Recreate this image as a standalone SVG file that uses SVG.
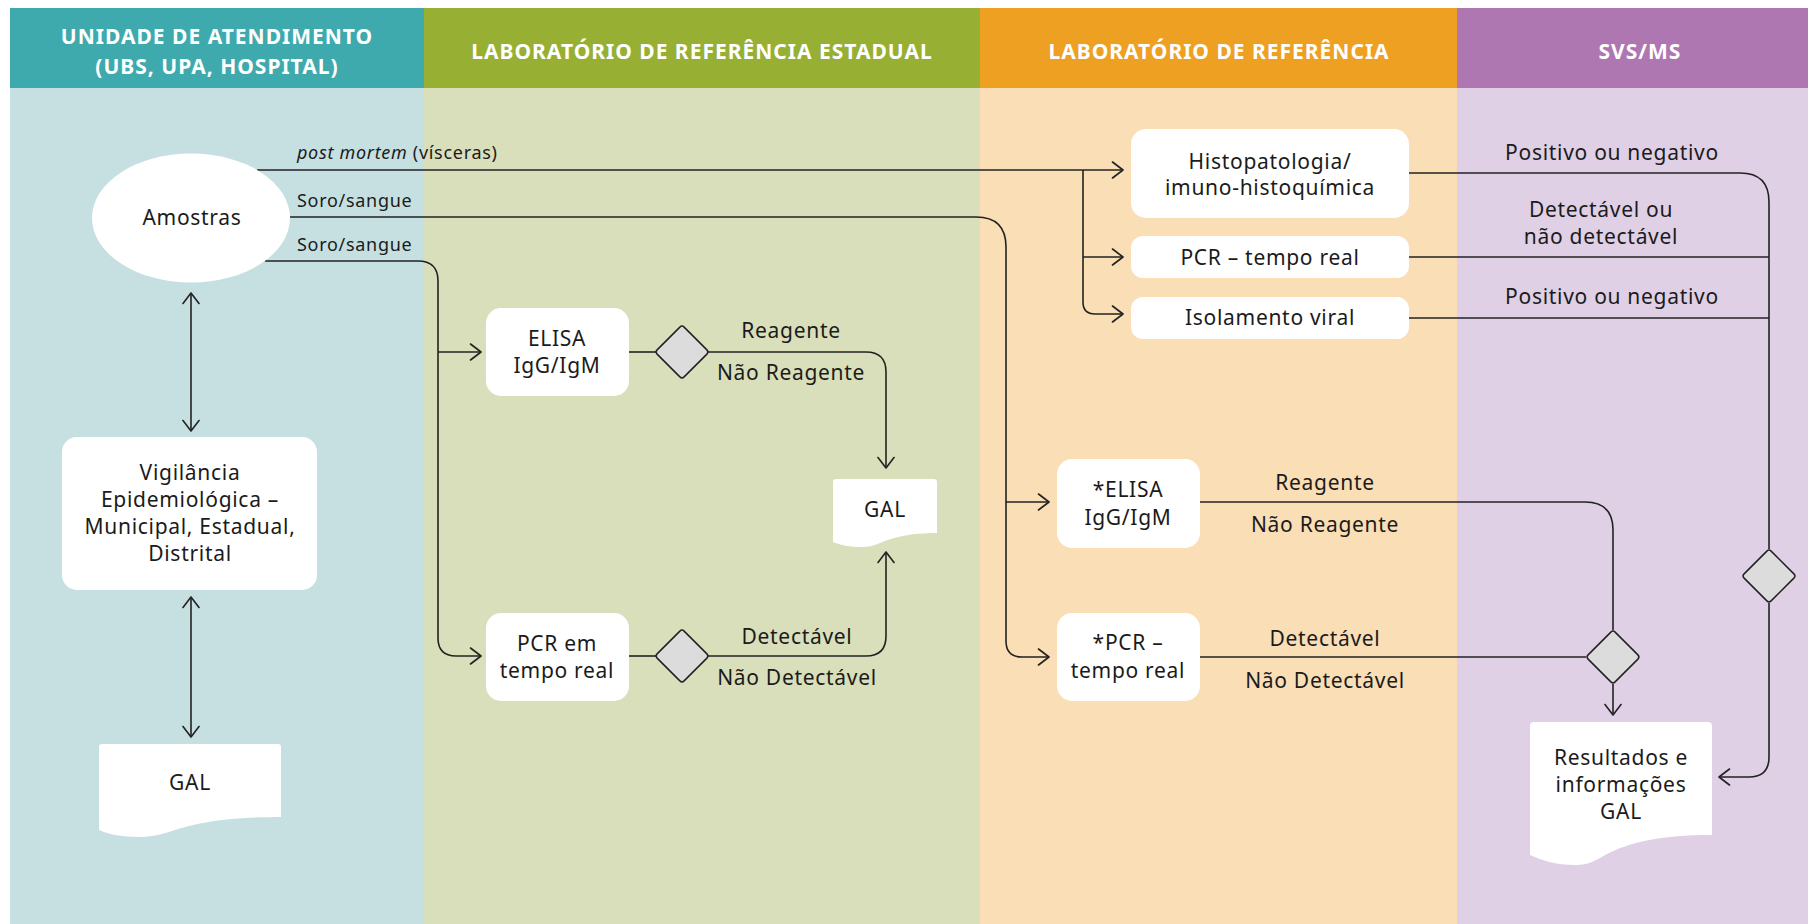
<svg xmlns="http://www.w3.org/2000/svg" xmlns:xlink="http://www.w3.org/1999/xlink" width="1808" height="924" viewBox="0 0 1808 924">
  <style>
    .hdr { fill: #ffffff; font-family: "Noto Sans", "Open Sans", sans-serif; font-weight: 700; font-size: 21px; letter-spacing: 1px; text-anchor: middle; }
    .t { fill: #1b1b1b; font-family: "Noto Sans", "Open Sans", sans-serif; font-size: 21px; letter-spacing: 0.7px; text-anchor: middle; }
    .lbl { fill: #1b1b1b; font-family: "Noto Sans", "Open Sans", sans-serif; font-size: 21px; letter-spacing: 0.7px; text-anchor: middle; }
    .lbl-s { fill: #1b1b1b; font-family: "Noto Sans", "Open Sans", sans-serif; font-size: 18px; letter-spacing: 0.7px; }
    .box { fill: #ffffff; }
    .dia { fill: #dcdcdc; stroke: #222222; stroke-width: 1.5; }
    .con { fill: none; stroke: #222222; stroke-width: 1.6; }
    .arr { marker-end: url(#chev); }
    .arr2 { marker-start: url(#chev); marker-end: url(#chev); }
  </style>
  <defs>
    <marker id="chev" markerUnits="userSpaceOnUse" viewBox="0 0 14 18" markerWidth="14" markerHeight="18" refX="12.5" refY="9" orient="auto-start-reverse">
      <path d="M2,1 L12.5,9 L2,17" fill="none" stroke="#222222" stroke-width="1.6" stroke-linejoin="round" stroke-linecap="round"/>
    </marker>
    <rect id="diamond" class="dia" x="-19.1" y="-19.1" width="38.2" height="38.2" rx="3" transform="rotate(45)"/>
  </defs>

  <!-- lanes -->
  <g id="lanes">
    <rect x="0" y="0" width="1808" height="924" fill="#ffffff"/>
    <rect x="10" y="88" width="414" height="836" fill="#c6e0e1"/>
    <rect x="424" y="88" width="556" height="836" fill="#d9dfba"/>
    <rect x="980" y="88" width="477" height="836" fill="#f9deb6"/>
    <rect x="1457" y="88" width="351" height="836" fill="#e0d0e6"/>
    <rect x="10" y="8" width="414" height="80" fill="#3faaae"/>
    <rect x="424" y="8" width="556" height="80" fill="#97af33"/>
    <rect x="980" y="8" width="477" height="80" fill="#eea022"/>
    <rect x="1457" y="8" width="351" height="80" fill="#ae77b2"/>
    <text class="hdr" x="217" y="44">UNIDADE DE ATENDIMENTO</text>
    <text class="hdr" x="217" y="74">(UBS, UPA, HOSPITAL)</text>
    <text class="hdr" x="702" y="59">LABORATÓRIO DE REFERÊNCIA ESTADUAL</text>
    <text class="hdr" x="1219" y="59">LABORATÓRIO DE REFERÊNCIA</text>
    <text class="hdr" x="1640" y="59">SVS/MS</text>
  </g>

  <!-- connectors -->
  <g id="connectors">
    <!-- post mortem route -->
    <path class="con arr" d="M257,170 H1123"/>
    <path class="con arr" d="M1083,170 V302 Q1083,314 1095,314 H1123"/>
    <path class="con arr" d="M1083,257 H1123"/>
    <!-- serum route to reference lab -->
    <path class="con arr" d="M290,217 H976 Q1006,217 1006,247 V641 Q1006,657 1022,657 H1049"/>
    <path class="con arr" d="M1006,502 H1049"/>
    <!-- serum route to state lab -->
    <path class="con arr" d="M265,261 H418 Q438,261 438,281 V638 Q438,656 456,656 H481"/>
    <path class="con arr" d="M438,352 H481"/>
    <path class="con" d="M629,352 H656"/>
    <path class="con arr" d="M708,352 H866 Q886,352 886,372 V468"/>
    <path class="con" d="M629,656 H656"/>
    <path class="con arr" d="M708,656 H866 Q886,656 886,636 V552"/>
    <!-- reference lab results -->
    <path class="con" d="M1200,502 H1585 Q1613,502 1613,530 V630"/>
    <path class="con" d="M1200,657 H1586"/>
    <path class="con arr" d="M1613,684 V715"/>
    <path class="con" d="M1409,173 H1740 Q1769,173 1769,202 V549"/>
    <path class="con" d="M1409,257 H1769"/>
    <path class="con" d="M1409,318 H1769"/>
    <path class="con arr" d="M1769,603 V757 Q1769,777 1749,777 H1719"/>
    <!-- surveillance links -->
    <path class="con arr2" d="M191,293 V431"/>
    <path class="con arr2" d="M191,597 V737"/>

    <text class="lbl-s" x="297" y="159"><tspan font-style="italic">post mortem</tspan> (vísceras)</text>
    <text class="lbl-s" x="297" y="207">Soro/sangue</text>
    <text class="lbl-s" x="297" y="251">Soro/sangue</text>
    <text class="lbl" x="791" y="338">Reagente</text>
    <text class="lbl" x="791" y="380">Não Reagente</text>
    <text class="lbl" x="797" y="644">Detectável</text>
    <text class="lbl" x="797" y="685">Não Detectável</text>
    <text class="lbl" x="1325" y="490">Reagente</text>
    <text class="lbl" x="1325" y="532">Não Reagente</text>
    <text class="lbl" x="1325" y="646">Detectável</text>
    <text class="lbl" x="1325" y="688">Não Detectável</text>
    <text class="lbl" x="1612" y="160">Positivo ou negativo</text>
    <text class="lbl" x="1601" y="217">Detectável ou</text>
    <text class="lbl" x="1601" y="244">não detectável</text>
    <text class="lbl" x="1612" y="304">Positivo ou negativo</text>
  </g>

  <!-- nodes -->
  <g id="amostras">
    <ellipse class="box" cx="191" cy="218" rx="99" ry="64.5"/>
    <text class="t" x="192" y="225">Amostras</text>
  </g>
  <g id="vigilancia">
    <rect class="box" x="62" y="437" width="255" height="153" rx="15"/>
    <text class="t" x="190" y="480">Vigilância</text>
    <text class="t" x="190" y="507">Epidemiológica –</text>
    <text class="t" x="190" y="534">Municipal, Estadual,</text>
    <text class="t" x="190" y="561">Distrital</text>
  </g>
  <g id="gal-unidade">
    <path class="box" d="M102,744 H278 Q281,744 281,747 V817 C230,817 200,822 175,830 C160,835 150,837 140,837 C120,837 108,834 99,830 V747 Q99,744 102,744 Z"/>
    <text class="t" x="190" y="790">GAL</text>
  </g>
  <g id="elisa-estadual">
    <rect class="box" x="486" y="308" width="143" height="88" rx="15"/>
    <text class="t" x="557" y="346">ELISA</text>
    <text class="t" x="557" y="373">IgG/IgM</text>
  </g>
  <g id="pcr-estadual">
    <rect class="box" x="486" y="613" width="143" height="88" rx="15"/>
    <text class="t" x="557" y="651">PCR em</text>
    <text class="t" x="557" y="678">tempo real</text>
  </g>
  <g id="decisao-elisa-estadual">
    <use xlink:href="#diamond" transform="translate(682,352)"/>
  </g>
  <g id="decisao-pcr-estadual">
    <use xlink:href="#diamond" transform="translate(682,656)"/>
  </g>
  <g id="gal-estadual">
    <path class="box" d="M836,479 H934 Q937,479 937,482 V533 C910,533 895,537 880,543 C873,546 868,547 862,547 C850,547 840,545 833,542 V482 Q833,479 836,479 Z"/>
    <text class="t" x="885" y="517">GAL</text>
  </g>
  <g id="histopatologia">
    <rect class="box" x="1131" y="129" width="278" height="89" rx="15"/>
    <text class="t" x="1270" y="169">Histopatologia/</text>
    <text class="t" x="1270" y="195">imuno-histoquímica</text>
  </g>
  <g id="pcr-referencia">
    <rect class="box" x="1131" y="236" width="278" height="42" rx="12"/>
    <text class="t" x="1270" y="265">PCR – tempo real</text>
  </g>
  <g id="isolamento">
    <rect class="box" x="1131" y="297" width="278" height="42" rx="12"/>
    <text class="t" x="1270" y="325">Isolamento viral</text>
  </g>
  <g id="elisa-referencia">
    <rect class="box" x="1057" y="459" width="143" height="89" rx="15"/>
    <text class="t" x="1128" y="497">*ELISA</text>
    <text class="t" x="1128" y="525">IgG/IgM</text>
  </g>
  <g id="pcr-referencia-soro">
    <rect class="box" x="1057" y="613" width="143" height="88" rx="15"/>
    <text class="t" x="1128" y="650">*PCR –</text>
    <text class="t" x="1128" y="678">tempo real</text>
  </g>
  <g id="decisao-referencia">
    <use xlink:href="#diamond" transform="translate(1613,657)"/>
  </g>
  <g id="decisao-svs">
    <use xlink:href="#diamond" transform="translate(1769,576)"/>
  </g>
  <g id="resultados">
    <path class="box" d="M1534,722 H1708 Q1712,722 1712,726 V835 C1660,835 1630,842 1605,855 C1595,861 1588,865 1576,865 C1555,865 1541,860 1530,855 V726 Q1530,722 1534,722 Z"/>
    <text class="t" x="1621" y="765">Resultados e</text>
    <text class="t" x="1621" y="792">informações</text>
    <text class="t" x="1621" y="819">GAL</text>
  </g>
</svg>
